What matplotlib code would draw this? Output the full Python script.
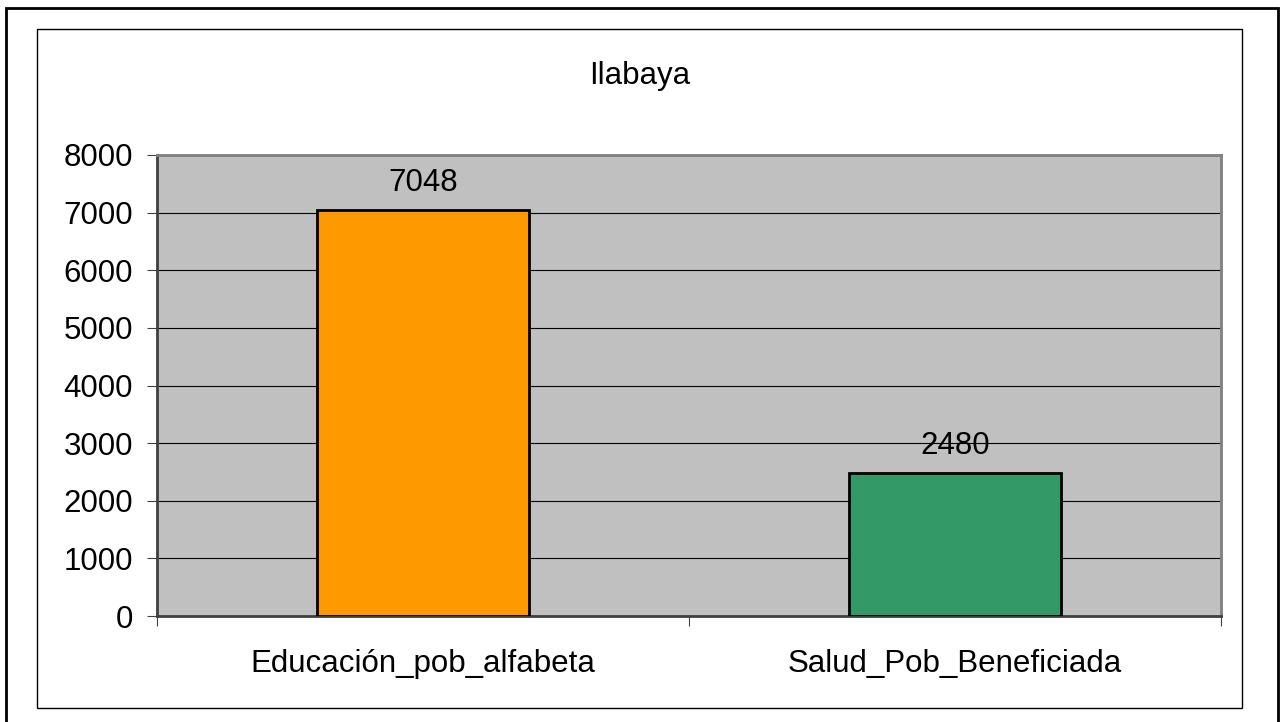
import matplotlib
matplotlib.use('Agg')
from matplotlib import pyplot as plt
from matplotlib.patches import Rectangle

plt.rcParams['font.family'] = ['Liberation Sans', 'DejaVu Sans']

# data
title = 'Ilabaya'
categories = ['Educación_pob_alfabeta', 'Salud_Pob_Beneficiada']
values = [7048, 2480]
bar_colors = ['#FF9900', '#339966']
y_ticks = [0, 1000, 2000, 3000, 4000, 5000, 6000, 7000, 8000]

W, H = 1280, 722
FS = 22.5
fig = plt.figure(figsize=(W / 100, H / 100), dpi=100)

# outer and inner frames
fig.patches.append(Rectangle((6 / W, -0.01), (1278 - 6) / W, (H - 8) / H + 0.01,
                             transform=fig.transFigure, fill=False,
                             edgecolor='black', linewidth=2))
fig.patches.append(Rectangle((37 / W, (H - 708) / H), (1242 - 37) / W, (708 - 29) / H,
                             transform=fig.transFigure, fill=False,
                             edgecolor='black', linewidth=1))

ax = fig.add_axes([157 / W, (H - 616) / H, (1221 - 157) / W, (616 - 155) / H])
ax.set_facecolor('#C0C0C0')

x = range(len(categories))
ax.bar(x, values, width=0.4, color=bar_colors, edgecolor='black', linewidth=2, zorder=3)
for xi, v in zip(x, values):
    ax.text(xi, v + 470, str(v), ha='center', va='center', fontsize=FS, zorder=4)

ax.set_xlim(-0.5, len(categories) - 0.5)
ax.set_ylim(0, 8000)
ax.set_yticks(y_ticks)
ax.set_yticklabels([str(t) for t in y_ticks], fontsize=FS)
ax.yaxis.grid(True, color='black', linewidth=0.8, zorder=1)
ax.tick_params(axis='y', length=7.2, width=0.8, color='#404040', pad=10)

ax.set_xticks([-0.5, 0.5, 1.5])
ax.set_xticklabels([])
ax.tick_params(axis='x', length=7.2, width=0.8, color='#404040')
for xi, c in zip(x, categories):
    ax.text(xi, -0.105, c, transform=ax.get_xaxis_transform(), ha='center', va='center',
            fontsize=FS)

ax.spines['left'].set_color('#404040')
ax.spines['bottom'].set_color('#404040')
ax.spines['left'].set_linewidth(2)
ax.spines['bottom'].set_linewidth(2)
ax.spines['top'].set_color('#808080')
ax.spines['right'].set_color('#808080')
ax.spines['top'].set_linewidth(2)
ax.spines['right'].set_linewidth(2)

fig.text(640 / W, 1 - 76 / H, title, ha='center', va='center', fontsize=FS)

fig.savefig('out.png', dpi=100)
